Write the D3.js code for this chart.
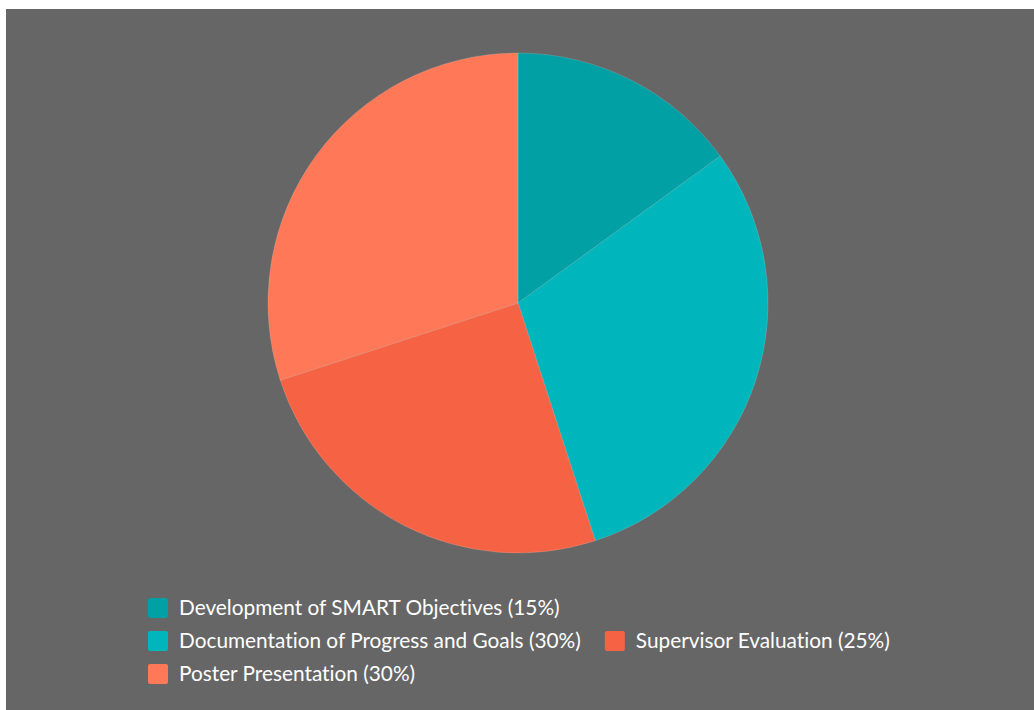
<!DOCTYPE html>
<html>
<head>
<meta charset="utf-8">
<script src="https://cdn.jsdelivr.net/npm/d3@7"></script>
<style>
  html, body { margin: 0; padding: 0; background: #fff; }
  svg { display: block; }
</style>
</head>
<body>
<div id="chart"></div>
<script>
// Data.
const labels = ['Development of SMART Objectives', 'Documentation of Progress and Goals', 'Supervisor Evaluation', 'Poster Presentation'];
const values = [15, 30, 25, 30];
const colors = ['#00a0a4', '#00b6bd', '#f56244', '#ff7857'];

// SVG constants.
const width = 1034;
const height = 710;
const cx = 518;
const cy = 303;
const radius = 250;

const svg = d3.select('#chart')
              .append('svg')
              .attr('width', width)
              .attr('height', height);

// Background panel.
svg.append('rect')
   .attr('x', 6)
   .attr('y', 9)
   .attr('width', width - 6)
   .attr('height', height - 9)
   .attr('fill', '#666666');

// Pie.
const pie = d3.pie().sort(null).value((d) => d);
const arc = d3.arc().innerRadius(0).outerRadius(radius);

svg.append('g')
   .attr('transform', 'translate(' + cx + ',' + cy + ')')
   .selectAll('path')
   .data(pie(values))
   .enter()
   .append('path')
   .attr('d', arc)
   .attr('fill', (d, i) => colors[i])
   .attr('stroke', 'rgba(255,255,255,0.15)')
   .attr('stroke-width', 1);

// Legend (flows into rows).
const legend = svg.append('g').attr('id', 'legend');
const legendX = 148;
const legendY = 598;
const rowH = 33;
const maxW = 760;
const box = 20;
const gap = 24;

let x = legendX;
let row = 0;
labels.forEach((name, i) => {
    const item = legend.append('g');
    const text = item.append('text')
                     .attr('x', box + 11)
                     .attr('y', box / 2)
                     .attr('dy', '0.35em')
                     .attr('fill', '#ffffff')
                     .style('font-family', 'Lato, sans-serif')
                     .style('font-size', '20.8px')
                     .style('font-variant-ligatures', 'none')
                     .text(name + ' (' + values[i] + '%)');
    item.append('rect')
        .attr('width', box)
        .attr('height', box)
        .attr('rx', 2)
        .attr('fill', colors[i]);
    const w = box + 11 + text.node().getComputedTextLength();
    if (x > legendX && x + w > legendX + maxW) {
        x = legendX;
        row += 1;
    }
    item.attr('transform', 'translate(' + x + ',' + (legendY + row * rowH) + ')');
    x += w + gap;
});
</script>
</body>
</html>
